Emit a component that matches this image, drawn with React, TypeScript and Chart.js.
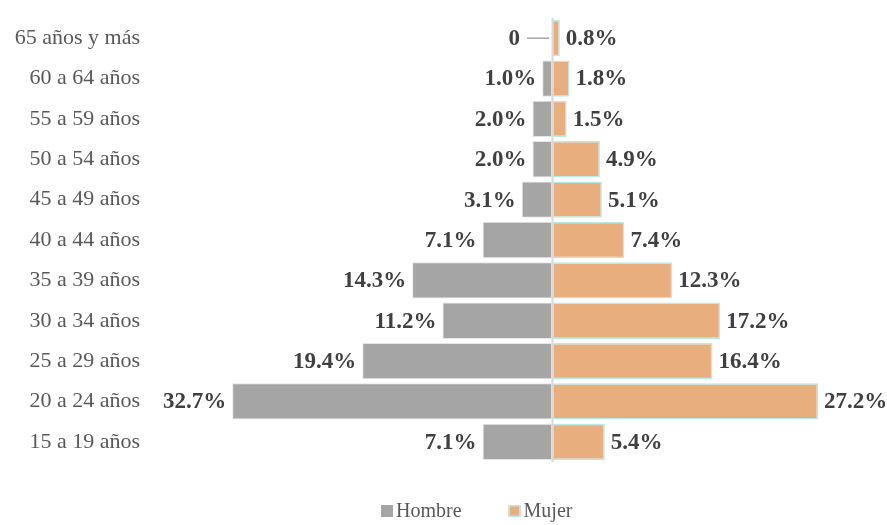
import React, { useEffect, useRef } from "react";
import { Chart, registerables } from "chart.js";

Chart.register(...registerables);

const categories = [
  "65 años y más",
  "60 a 64 años",
  "55 a 59 años",
  "50 a 54 años",
  "45 a 49 años",
  "40 a 44 años",
  "35 a 39 años",
  "30 a 34 años",
  "25 a 29 años",
  "20 a 24 años",
  "15 a 19 años",
];
const hombre = [0, 1.0, 2.0, 2.0, 3.1, 7.1, 14.3, 11.2, 19.4, 32.7, 7.1];
const mujer = [0.8, 1.8, 1.5, 4.9, 5.1, 7.4, 12.3, 17.2, 16.4, 27.2, 5.4];
const seriesNames = ["Hombre", "Mujer"];

export default function App() {
  const ref = useRef<HTMLCanvasElement>(null);

  useEffect(() => {
    if (!ref.current) return;

    const labelsPlugin = {
      id: "barLabels",
      afterDatasetsDraw(chart: any) {
        const ctx = chart.ctx;
        const xs = chart.scales.x;
        const area = chart.chartArea;
        const x0 = xs.getPixelForValue(0);
        ctx.save();
        // central axis line
        ctx.strokeStyle = "#D9D9D9";
        ctx.lineWidth = 2;
        ctx.beginPath();
        ctx.moveTo(x0 + 0.5, area.top);
        ctx.lineTo(x0 + 0.5, area.bottom);
        ctx.stroke();

        ctx.font = "bold 23px 'Liberation Serif'";
        ctx.fillStyle = "#404040";
        ctx.textBaseline = "middle";

        const m0 = chart.getDatasetMeta(0);
        m0.data.forEach((bar: any, i: number) => {
          const v = hombre[i];
          ctx.textAlign = "right";
          if (v === 0) {
            ctx.strokeStyle = "#A5A5A5";
            ctx.lineWidth = 1.5;
            ctx.beginPath();
            ctx.moveTo(x0 - 25, bar.y);
            ctx.lineTo(x0 - 3, bar.y);
            ctx.stroke();
            ctx.fillText("0", x0 - 32, bar.y + 1);
          } else {
            ctx.fillText(v.toFixed(1) + "%", bar.x - 6, bar.y + 1);
          }
        });
        const m1 = chart.getDatasetMeta(1);
        m1.data.forEach((bar: any, i: number) => {
          const v = mujer[i];
          ctx.textAlign = "left";
          ctx.fillText(v.toFixed(1) + "%", bar.x + 6, bar.y + 1);
        });
        ctx.restore();
      },
    };

    const legendPlugin = {
      id: "customLegend",
      afterDraw(chart: any) {
        const ctx = chart.ctx;
        const area = chart.chartArea;
        const cy = area.bottom + 49;
        ctx.save();
        ctx.font = "20px 'Liberation Serif'";
        ctx.textBaseline = "middle";
        ctx.textAlign = "left";
        let x = 381;
        chart.data.datasets.forEach((ds: any) => {
          ctx.fillStyle = ds.backgroundColor;
          ctx.fillRect(x, cy - 6, 12, 12);
          if (ds.legendBorder) {
            ctx.strokeStyle = ds.legendBorder;
            ctx.lineWidth = 1.5;
            ctx.strokeRect(x + 0.75, cy - 6 + 0.75, 10.5, 10.5);
          }
          ctx.fillStyle = "#595959";
          ctx.fillText(ds.label, x + 15, cy + 1);
          x += 15 + ctx.measureText(ds.label).width + 47;
        });
        ctx.restore();
      },
    };

    const chart = new Chart(ref.current, {
      type: "bar",
      data: {
        labels: categories,
        datasets: [
          {
            label: seriesNames[0],
            data: hombre.map((v) => -v),
            backgroundColor: "#A5A5A5",
            borderColor: "#E6E6E6",
            borderWidth: 1,
            borderSkipped: false,
            categoryPercentage: 0.9,
            barPercentage: 1,
          } as any,
          {
            label: seriesNames[1],
            data: mujer,
            backgroundColor: "#E8AE7E",
            borderColor: "#B8EAE8",
            legendBorder: "#B8EAE8",
            borderWidth: 1.5,
            borderSkipped: false,
            categoryPercentage: 0.9,
            barPercentage: 1,
          } as any,
        ],
      },
      options: {
        indexAxis: "y",
        responsive: false,
        animation: false,
        devicePixelRatio: 1,
        layout: { padding: { top: 18, bottom: 63, left: 0, right: 0 } },
        scales: {
          x: {
            display: false,
            stacked: true,
            min: -40.08,
            max: 34.25,
          },
          y: {
            stacked: true,
            grid: { display: false, drawTicks: false },
            border: { display: false },
            ticks: {
              padding: 20,
              color: "#595959",
              font: { family: "'Liberation Serif'", size: 22 },
            },
            afterFit(scale: any) {
              scale.width = 160;
              scale.paddingTop = 0;
              scale.paddingBottom = 0;
            },
          },
        },
        plugins: {
          tooltip: { enabled: false },
          legend: { display: false },
        },
      },
      plugins: [labelsPlugin, legendPlugin],
    });

    return () => chart.destroy();
  }, []);

  return (
    <div style={{ position: "absolute", left: 0, top: 0, width: 887, height: 525 }}>
      <canvas ref={ref} width={887} height={525} />
    </div>
  );
}
